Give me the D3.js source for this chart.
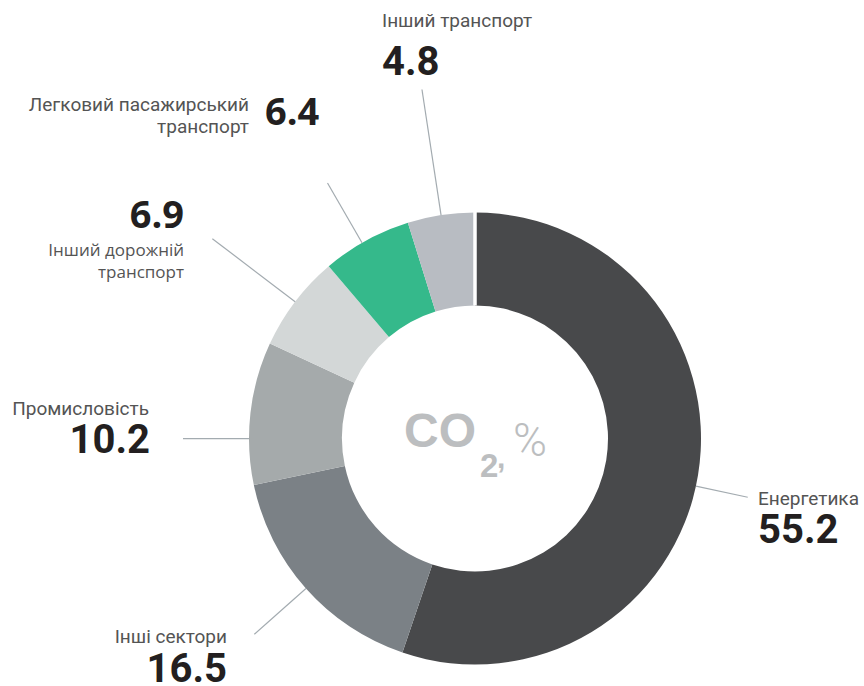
<!DOCTYPE html>
<html>
<head>
<meta charset="utf-8">
<script src="https://cdn.jsdelivr.net/npm/d3@7"></script>
<style>
  html, body { margin: 0; padding: 0; background: #ffffff; }
  svg { display: block; }
</style>
</head>
<body>
<svg id="chart" width="864" height="686"></svg>
<script>
// CO2 emissions by sector, % of total
const categories = [
  "Енергетика",
  "Інші сектори",
  "Промисловість",
  "Інший дорожній транспорт",
  "Легковий пасажирський транспорт",
  "Інший транспорт"
];
const shares = [55.2, 16.5, 10.2, 6.9, 6.4, 4.8];
const valueLabels = ["55.2", "16.5", "10.2", "6.9", "6.4", "4.8"];
const sliceColors = ["#48494b", "#7b8186", "#a5aaab", "#d3d7d7", "#35b98b", "#b8bcc2"];

// label placement: name lines, text anchors, leader tweaks
const labelLayout = [
  { name: ["Енергетика"], anchor: "start", x: 758, nameY: 505, valX: 758, valY: 543, valAnchor: "start", leadOffset: 2.8, leadR: 279 },
  { name: ["Інші сектори"], anchor: "end", x: 227, nameY: 643, valX: 227, valY: 682, valAnchor: "end", leadOffset: 0, leadR: 295 },
  { name: ["Промисловість"], anchor: "end", x: 149, nameY: 415, valX: 150, valY: 453, valAnchor: "end", leadOffset: -6.5, leadR: 292 },
  { name: ["Інший дорожній", "транспорт"], anchor: "end", x: 184, nameY: 256, valX: 184, valY: 228, valAnchor: "end", leadOffset: 0, leadR: 330, alt: true },
  { name: ["Легковий пасажирський", "транспорт"], anchor: "end", x: 249, nameY: 111, valX: 265, valY: 125, valAnchor: "start", leadOffset: -1.2, leadR: 295, alt: true },
  { name: ["Інший транспорт"], anchor: "start", x: 382, nameY: 27, valX: 382, valY: 75, valAnchor: "start", leadOffset: 0, leadR: 353 }
];

const cx = 475, cy = 438.5, outerR = 226, innerR = 133;

const svg = d3.select("#chart");
const g = svg.append("g").attr("transform", `translate(${cx},${cy})`);

const data = categories.map((c, i) => ({ category: c, value: shares[i], label: valueLabels[i], color: sliceColors[i], layout: labelLayout[i] }));

const pie = d3.pie().value(d => d.value).sort(null);
const arc = d3.arc().innerRadius(innerR).outerRadius(outerR);
const arcs = pie(data);

g.selectAll("path.slice")
  .data(arcs)
  .enter().append("path")
  .attr("class", "slice")
  .attr("d", arc)
  .attr("fill", d => d.data.color);

// white seam where the ring starts
const seam = arcs[0].startAngle;
g.append("line")
  .attr("x1", innerR * Math.sin(seam) ).attr("y1", -innerR * Math.cos(seam))
  .attr("x2", (outerR + 2) * Math.sin(seam)).attr("y2", -(outerR + 2) * Math.cos(seam))
  .attr("stroke", "#ffffff").attr("stroke-width", 3.5);

// leader lines: radial, from the ring edge outwards
const toRad = Math.PI / 180;
g.selectAll("line.leader")
  .data(arcs)
  .enter().append("line")
  .attr("class", "leader")
  .each(function(d) {
    const a = (d.startAngle + d.endAngle) / 2 + d.data.layout.leadOffset * toRad;
    d3.select(this)
      .attr("x1", outerR * Math.sin(a)).attr("y1", -outerR * Math.cos(a))
      .attr("x2", d.data.layout.leadR * Math.sin(a)).attr("y2", -d.data.layout.leadR * Math.cos(a));
  })
  .attr("stroke", "#a3abb0")
  .attr("stroke-width", 1.2);

// category names and values
const labels = svg.append("g").attr("class", "labels");
data.forEach(d => {
  const L = d.layout;
  const isOpen = d.category.startsWith("Інший дорожній");
  const nameFont = isOpen ? "'Open Sans', sans-serif" : "Roboto, sans-serif";
  const valFont = L.alt ? "'Open Sans', sans-serif" : "Roboto, sans-serif";
  const t = labels.append("text")
    .attr("text-anchor", L.anchor)
    .attr("font-family", nameFont)
    .attr("font-size", isOpen ? 17 : 19)
    .attr("font-weight", 400)
    .attr("fill", "#545454");
  L.name.forEach((line, j) => {
    t.append("tspan").attr("x", L.x).attr("y", L.nameY + j * 22).text(line);
  });
  labels.append("text")
    .attr("x", L.valX).attr("y", L.valY)
    .attr("text-anchor", L.valAnchor)
    .attr("font-family", valFont)
    .attr("font-size", L.alt ? 38 : 40)
    .attr("font-weight", 700)
    .attr("fill", "#231f20")
    .text(d.label);
});

// centre caption: CO2, %
const capColor = "#bcbec0";
const cap = svg.append("g").attr("class", "caption").attr("fill", capColor);
cap.append("text").attr("x", 404).attr("y", 447)
  .attr("font-family", "'Liberation Sans', Arial, sans-serif")
  .attr("font-size", 48).attr("font-weight", 700).text("CO");
cap.append("text").attr("x", 480).attr("y", 477)
  .attr("font-family", "'Liberation Sans', Arial, sans-serif")
  .attr("font-size", 33).attr("font-weight", 700).text("2");
cap.append("text").attr("x", 497).attr("y", 468)
  .attr("font-family", "'Liberation Sans', Arial, sans-serif")
  .attr("font-size", 30).attr("font-weight", 700).text(",");
cap.append("text").attr("x", 513).attr("y", 456)
  .attr("font-family", "Roboto, sans-serif")
  .attr("font-size", 46).attr("font-weight", 300).text("%");
</script>
</body>
</html>
